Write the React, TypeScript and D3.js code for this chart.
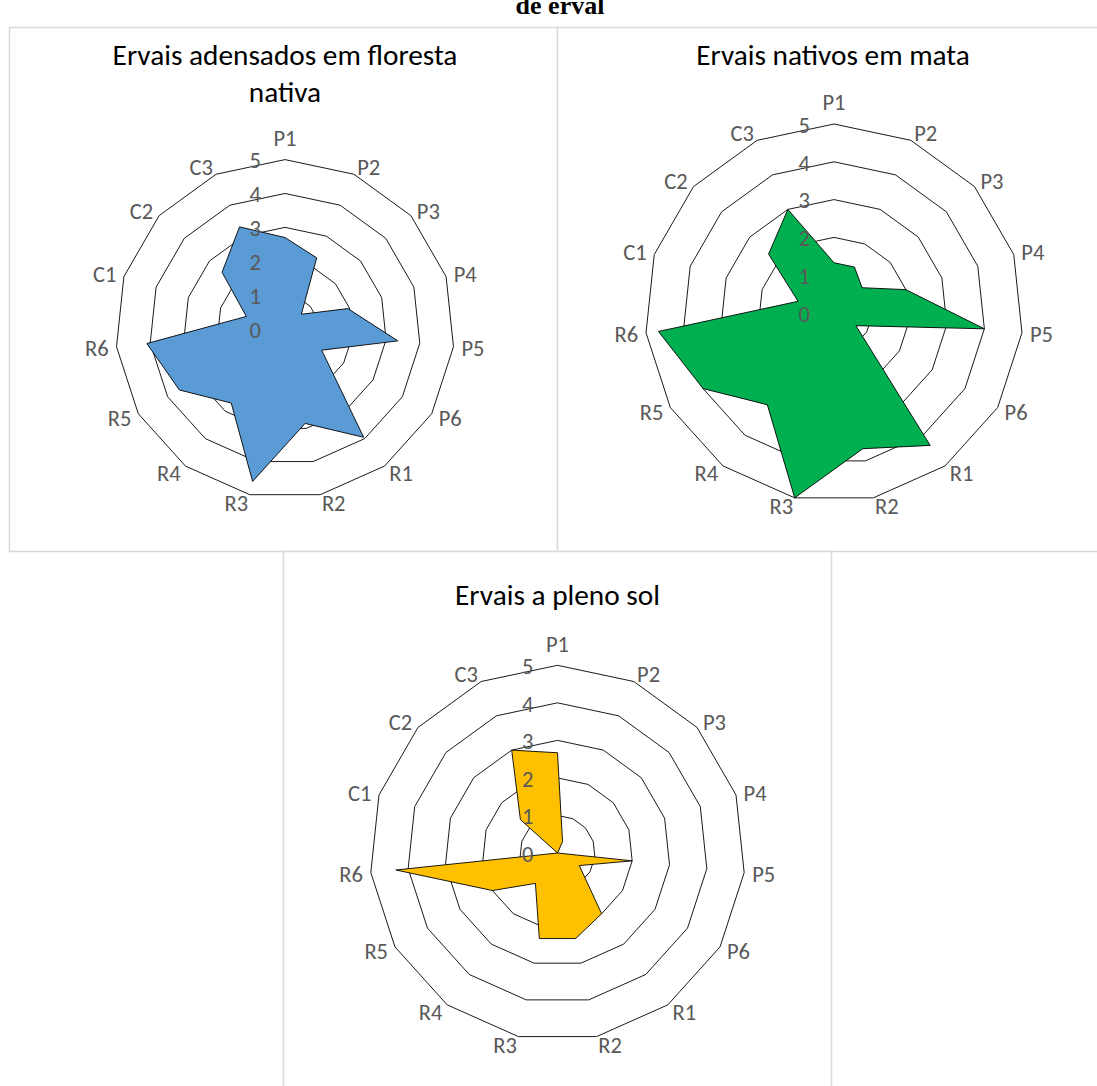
import React from "react";
import * as d3 from "d3";

const axes = ["P1", "P2", "P3", "P4", "P5", "P6", "R1", "R2", "R3", "R4", "R5", "R6", "C1", "C2", "C3"];
const ticks = [0, 1, 2, 3, 4, 5];

const adensadosValues = [2.7, 2.3, 0.65, 1.95, 3.35, 1.25, 3.95, 2.85, 4.6, 2.7, 3.6, 4.1, 1.2, 2.5, 3.3];
const nativosValues = [1.33, 1.33, 1, 2, 4, 0.67, 4.33, 3.67, 5, 3, 4, 4.67, 1, 2.33, 3];
const plenoSolValues = [2.67, 0.33, 0, 0, 2, 0.67, 2, 2.33, 2.33, 1, 2, 4.33, 0, 1.33, 3];

const titles = [["Ervais adensados em floresta", "nativa"], ["Ervais nativos em mata"], ["Ervais a pleno sol"]];
const colors = ["#5B9BD5", "#00B050", "#FFC000"];

const FONT = "Carlito, Calibri, Lato, sans-serif";
const LABEL_SIZE = 22.5;
const CAP = LABEL_SIZE * 0.644;

type RadarProps = {
  cx: number; cy: number; R: number; values: number[]; color: string;
  title: string[]; titleX: number; titleY: number;
};

function Radar({ cx, cy, R, values, color, title, titleX, titleY }: RadarProps) {
  const r = d3.scaleLinear().domain([0, 5]).range([0, R]);
  const n = axes.length;
  const ang = d3.scaleLinear().domain([0, n]).range([0, 2 * Math.PI]);
  const line = d3
    .lineRadial<number>()
    .angle((_, i) => ang(i))
    .radius((d) => r(d))
    .curve(d3.curveLinearClosed);

  return (
    <g>
      {title.map((t, i) => (
        <text key={i} x={titleX} y={titleY + i * 37} textAnchor="middle"
          fontFamily={FONT} fontSize={29.3} fill="#000">{t}</text>
      ))}
      <g transform={`translate(${cx},${cy})`}>
        {ticks.filter((t) => t > 0).map((t) => (
          <path key={t} d={line(axes.map(() => t)) || ""} fill="none" stroke="#000" strokeWidth={0.9} />
        ))}
        <path d={line(values) || ""} fill={color} stroke="#000" strokeWidth={0.9} />
        {ticks.map((t) => (
          <text key={t} x={-24} y={-r(t) + 1.5 + CAP / 2} textAnchor="end"
            fontFamily={FONT} fontSize={LABEL_SIZE} fill="#595959">{t}</text>
        ))}
        {axes.map((a, i) => {
          const th = ang(i);
          const s = Math.sin(th), c = Math.cos(th);
          const vx = r(5) * s, vy = -r(5) * c;
          let x, cyc, anchor;
          if (Math.abs(s) < 0.1) {
            x = vx; cyc = vy - 21; anchor = "middle";
          } else {
            x = vx + 8 * s; cyc = vy - 8 * c + 1; anchor = s > 0 ? "start" : "end";
          }
          return (
            <text key={a} x={x} y={cyc + CAP / 2} textAnchor={anchor}
              fontFamily={FONT} fontSize={LABEL_SIZE} fill="#595959">{a}</text>
          );
        })}
      </g>
    </g>
  );
}

export default function App() {
  const border = "#d9d9d9";
  return (
    <svg width={1097} height={1086} style={{ position: "absolute", left: 0, top: 0, background: "#fff" }}>
      <rect x={0} y={0} width={1097} height={1086} fill="#fff" />
      <text x={560} y={14} textAnchor="middle" fontFamily="Liberation Serif, Times New Roman, serif"
        fontWeight="bold" fontSize={26}>de erval</text>
      <rect x={9.5} y={27.5} width={548} height={524} fill="#fff" stroke={border} strokeWidth={1.5} />
      <rect x={557.5} y={27.5} width={548} height={524} fill="#fff" stroke={border} strokeWidth={1.5} />
      <rect x={283.5} y={551.5} width={548} height={560} fill="#fff" stroke={border} strokeWidth={1.5} />
      <Radar cx={285} cy={329} R={169.4} values={adensadosValues} color={colors[0]}
        title={titles[0]} titleX={285} titleY={65} />
      <Radar cx={834} cy={313} R={189} values={nativosValues} color={colors[1]}
        title={titles[1]} titleX={833} titleY={65} />
      <Radar cx={557.5} cy={853} R={187.7} values={plenoSolValues} color={colors[2]}
        title={titles[2]} titleX={557.5} titleY={605} />
    </svg>
  );
}
